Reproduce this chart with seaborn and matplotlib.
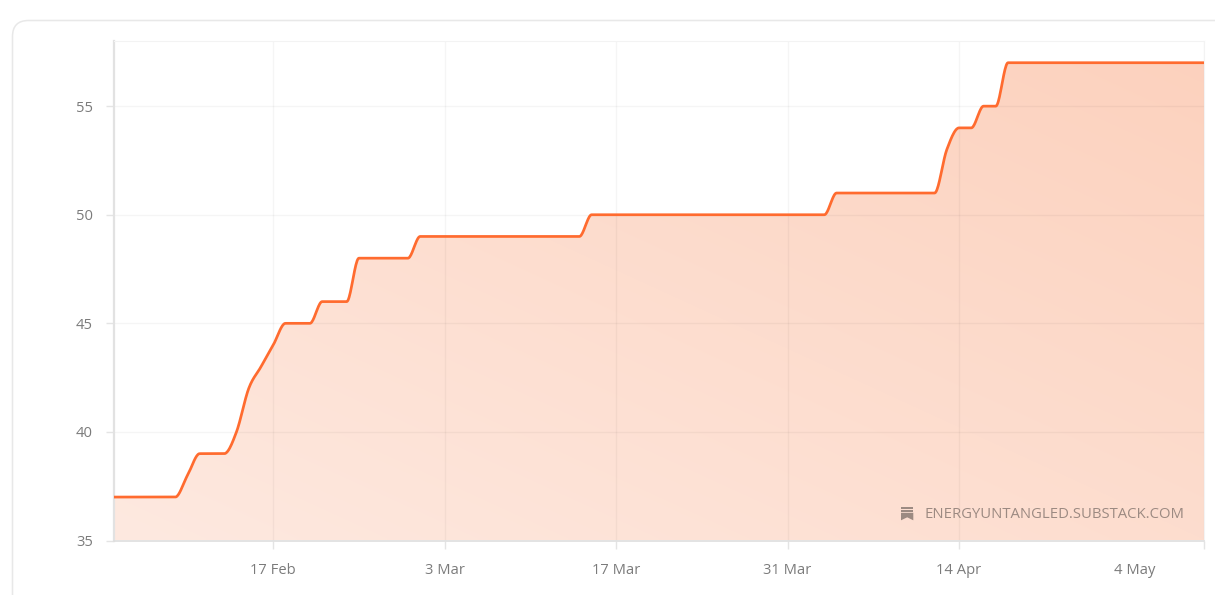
import matplotlib

matplotlib.use("Agg")

import matplotlib.dates as mdates
import matplotlib.pyplot as plt
import numpy as np
import pandas as pd
import seaborn as sns
from matplotlib.patches import FancyBboxPatch, Polygon, Rectangle
from matplotlib.path import Path
from matplotlib.transforms import IdentityTransform

START_DATE = "2025-02-04"

# one value per day, 4 Feb to 4 May
DAILY_VALUES = [
    37, 37, 37, 37, 37, 37, 38, 39, 39, 39,
    40, 42, 43, 44, 45, 45, 45, 46, 46, 46,
    48, 48, 48, 48, 48, 49, 49, 49, 49, 49,
    49, 49, 49, 49, 49, 49, 49, 49, 49, 50,
    50, 50, 50, 50, 50, 50, 50, 50, 50, 50,
    50, 50, 50, 50, 50, 50, 50, 50, 50, 51,
    51, 51, 51, 51, 51, 51, 51, 51, 53, 54,
    54, 55, 55, 57, 57, 57, 57, 57, 57, 57,
    57, 57, 57, 57, 57, 57, 57, 57, 57, 57,
]

Y_TICKS = [35, 40, 45, 50, 55]
X_TICKS = ["2025-02-17", "2025-03-03", "2025-03-17", "2025-03-31", "2025-04-14", "2025-05-04"]
X_LABELS = ["17 Feb", "3 Mar", "17 Mar", "31 Mar", "14 Apr", ""]
LAST_LABEL = "4 May"
WATERMARK = "ENERGYUNTANGLED.SUBSTACK.COM"

LINE_COLOR = "#ff6b2f"
TEXT_COLOR = "#7b7b7b"
W, H = 1215, 595


def monotone_curve(values: list[int], per_day: int = 20) -> tuple[np.ndarray, np.ndarray]:
    """Smooth the daily values the way a monotone chart curve does."""
    y = np.asarray(values, dtype=float)
    slopes = np.diff(y)
    tang = np.zeros_like(y)
    for i in range(1, len(y) - 1):
        s0, s1 = slopes[i - 1], slopes[i]
        tang[i] = (np.sign(s0) + np.sign(s1)) * min(abs(s0), abs(s1), 0.25 * abs(s0 + s1))
    tang[0], tang[-1] = slopes[0], slopes[-1]

    t = np.linspace(0, len(y) - 1, (len(y) - 1) * per_day + 1)
    i = np.minimum(t.astype(int), len(y) - 2)
    u = t - i
    out = (
        (2 * u**3 - 3 * u**2 + 1) * y[i]
        + (u**3 - 2 * u**2 + u) * tang[i]
        + (-2 * u**3 + 3 * u**2) * y[i + 1]
        + (u**3 - u**2) * tang[i + 1]
    )
    return t, out


def add_card(fig) -> None:
    card = FancyBboxPatch(
        (12.5, -40), W + 40, H + 40 - 20.5,
        boxstyle="round,pad=0,rounding_size=16",
        transform=IdentityTransform(), facecolor="white", edgecolor="#e8e8e8", linewidth=1.1,
    )
    fig.add_artist(card)


def add_bookmark_icon(fig, color: str) -> None:
    # small Substack mark next to the watermark, in pixels from the top left
    to_fig = lambda x, y: (x / W, 1 - y / H)
    for top in (507.3, 510.0):
        x0, y0 = to_fig(901, top + 1.5)
        fig.add_artist(Rectangle((x0, y0), 12.3 / W, 1.5 / H, transform=fig.transFigure,
                                 facecolor=color, edgecolor="none", zorder=5))
    points = [(901, 512.8), (913.3, 512.8), (913.3, 520.3), (907.2, 517.3), (901, 520.3)]
    fig.add_artist(Polygon([to_fig(*p) for p in points], closed=True, transform=fig.transFigure,
                           facecolor=color, edgecolor="none", zorder=5))


def main() -> None:
    sns.set_theme(style="white")
    plt.rcParams["font.family"] = ["Open Sans", "DejaVu Sans"]

    t, smooth = monotone_curve(DAILY_VALUES)
    dates = pd.Timestamp(START_DATE) + pd.to_timedelta(t, unit="D")

    fig = plt.figure(figsize=(W / 100, H / 100), dpi=100, facecolor="white")
    add_card(fig)
    ax = fig.add_axes([114 / W, 1 - 540.5 / H, (1204 - 114) / W, (540.5 - 41) / H])
    ax.set_zorder(3)
    ax.set_facecolor("none")

    sns.lineplot(x=dates, y=smooth, estimator=None, color=LINE_COLOR, linewidth=1.95,
                 ax=ax, zorder=4)

    # diagonal gradient under the curve
    gx, gy = np.meshgrid(np.linspace(0, 1, 300), np.linspace(0, 1, 200))
    shade = np.clip(0.5 * gx + 0.5 * gy, 0, 1)
    low, high = np.array([254, 233, 224]) / 255, np.array([252, 209, 189]) / 255
    rgb = low + (high - low) * shade[..., None]
    im = ax.imshow(rgb, extent=(0, 1, 0, 1), origin="lower", aspect="auto",
                   transform=ax.transAxes, zorder=1, interpolation="bilinear")

    ax.set_xlim(mdates.date2num(pd.Timestamp(START_DATE)), mdates.date2num(pd.Timestamp(X_TICKS[-1])))
    ax.set_ylim(35, 58)

    xnum = mdates.date2num(dates)
    verts = np.vstack([[xnum[0], 35], np.column_stack([xnum, smooth]), [xnum[-1], 35], [xnum[0], 35]])
    im.set_clip_path(Path(verts, closed=True), transform=ax.transData)

    ax.set_xticks(mdates.date2num(pd.to_datetime(X_TICKS)), X_LABELS)
    ax.set_yticks(Y_TICKS)
    ax.set_xlabel("")
    ax.set_ylabel("")
    ax.grid(True, color="black", alpha=0.04, linewidth=1.0)
    ax.set_axisbelow(False)
    for gridline in ax.get_xgridlines() + ax.get_ygridlines():
        gridline.set_zorder(2)
    ax.tick_params(axis="both", length=5.5, width=1.0, color="#e4e4e4", labelcolor=TEXT_COLOR,
                   labelsize=10.6, bottom=True, left=True)
    ax.tick_params(axis="x", pad=11)
    ax.tick_params(axis="y", pad=9.6)

    ax.annotate(LAST_LABEL, xy=(1, 0), xycoords="axes fraction", xytext=(-69 * 0.72, -30 * 0.72),
                textcoords="offset points", ha="center", va="center",
                color=TEXT_COLOR, fontsize=10.6)

    for side, color, width in [("left", "#e2e2e2", 1.6), ("bottom", "#dedede", 1.2),
                               ("top", "#f3f3f3", 0.8), ("right", "#f3f3f3", 0.8)]:
        ax.spines[side].set_visible(True)
        ax.spines[side].set_color(color)
        ax.spines[side].set_linewidth(width)
        ax.spines[side].set_zorder(3)

    fig.text(924 / W, 1 - 514.3 / H, WATERMARK, color="#9c8a82", fontsize=10.75, ha="left",
             va="center", zorder=5)
    add_bookmark_icon(fig, "#9c8a82")

    fig.savefig("out.png", dpi=100, facecolor="white")
    plt.close(fig)


if __name__ == "__main__":
    main()
